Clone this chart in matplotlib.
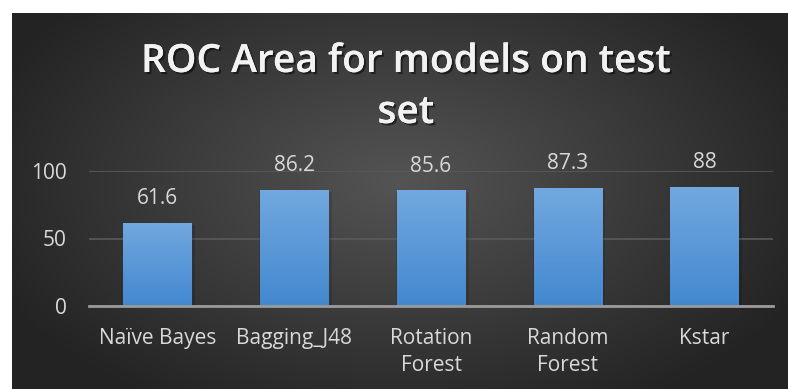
import numpy as np
import matplotlib.pyplot as plt
import matplotlib.patheffects as pe

models = ["Naïve Bayes", "Bagging_J48", "Rotation\nForest", "Random\nForest", "Kstar"]
roc_area = [61.6, 86.2, 85.6, 87.3, 88]
yticks = [0, 50, 100]

plt.rcParams["font.family"] = ["Open Sans", "DejaVu Sans"]

fig = plt.figure(figsize=(7.88, 3.89), dpi=100)
fig.patch.set_facecolor("white")

# dark radial-gradient panel
bg = fig.add_axes([12 / 788, 0, 776 / 788, 1 - 13 / 389])
yy, xx = np.mgrid[0:1:300j, 0:1:600j]
r = np.sqrt(((xx - 0.5) / 0.75) ** 2 + ((yy - 0.55) / 0.9) ** 2)
shade = np.clip(0.33 - 0.25 * r, 0.14, 0.33)
bg.imshow(np.dstack([shade] * 3), extent=(0, 1, 0, 1), aspect="auto", origin="lower")
bg.set_axis_off()

ax = fig.add_axes([89 / 788, 1 - 306 / 389, (773 - 89) / 788, (306 - 171) / 389])
ax.patch.set_alpha(0)

x = np.arange(len(models))
bars = ax.bar(x, roc_area, width=0.5, color="#5b9bd5", zorder=3)

# soft shadow + vertical gradient on each bar
top_c = np.array([0x72, 0xa8, 0xdf]) / 255
bot_c = np.array([0x43, 0x88, 0xcf]) / 255
grad = np.linspace(0, 1, 100)[:, None, None]
img = bot_c * (1 - grad) + top_c * grad
for b in bars:
    x0, w, h = b.get_x(), b.get_width(), b.get_height()
    ax.bar(x0 + w / 2 + 0.01, h, width=w + 0.03, bottom=-1.5, color="black",
           alpha=0.12, zorder=2)
    im = ax.imshow(img, extent=(x0, x0 + w, 0, h), aspect="auto", origin="lower", zorder=4)
    im.set_clip_path(b)

for xi, v in zip(x, roc_area):
    ax.text(xi, v + 18, f"{v:g}", ha="center", va="center", fontsize=15,
            color="#d9d9d9", zorder=5)

ax.set_xlim(-0.5, len(models) - 0.5)
ax.set_ylim(0, 100)
ax.set_yticks(yticks)
ax.set_xticks(x)
ax.set_xticklabels(models, fontsize=15, color="#d9d9d9", linespacing=1.35)
ax.tick_params(axis="y", length=0, pad=16, labelsize=15, labelcolor="#d9d9d9")
ax.tick_params(axis="x", length=0, pad=16)
ax.grid(axis="y", color="#5a5a5a", linewidth=1.2, zorder=0)
for s in ["top", "right", "left"]:
    ax.spines[s].set_visible(False)
ax.spines["bottom"].set_color("#9a9a9a")
ax.spines["bottom"].set_linewidth(2)
ax.spines["bottom"].set_zorder(6)

shadow = [pe.withSimplePatchShadow(offset=(1.5, -1.5), shadow_rgbFace="black", alpha=0.5),
          pe.Normal()]
fig.text(0.515, 1 - 62 / 389, "ROC Area for models on test", ha="center", va="center",
         fontsize=28, fontweight="semibold", color="#f2f2f2", path_effects=shadow)
fig.text(0.515, 1 - 113 / 389, "set", ha="center", va="center",
         fontsize=28, fontweight="semibold", color="#f2f2f2", path_effects=shadow)

fig.savefig("out.png", dpi=100, facecolor=fig.get_facecolor())
